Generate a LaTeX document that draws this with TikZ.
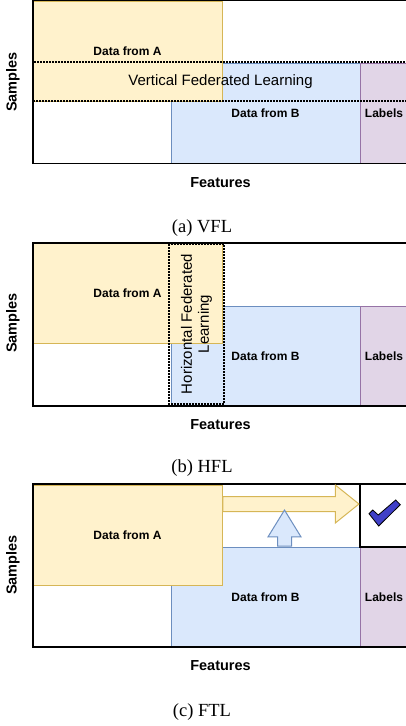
\documentclass[tikz,border=0pt]{standalone}
\usepackage{fontspec}
\setmainfont{Liberation Serif}
\newfontfamily\arialfont{Liberation Sans}
\usetikzlibrary{shapes.arrows}

\definecolor{yellowfill}{HTML}{FFF2CC}
\definecolor{yellowline}{HTML}{D6B656}
\definecolor{bluefill}{HTML}{DAE8FC}
\definecolor{blueline}{HTML}{6C8EBF}
\definecolor{purplefill}{HTML}{E1D5E7}
\definecolor{purpleline}{HTML}{9673A6}
\definecolor{tickblue}{HTML}{4040C8}

\begin{document}
\begin{tikzpicture}[
    x=1pt, y=-1pt,
    block/.style={rectangle, inner sep=0pt, line width=0.9pt, minimum width=189pt, minimum height=100pt, align=center, font=\arialfont\bfseries\fontsize{12}{14}\selectfont},
    partyA/.style={block, fill=yellowfill, draw=yellowline},
    partyB/.style={block, fill=bluefill, draw=blueline},
    labelcol/.style={block, fill=purplefill, draw=purpleline, minimum width=48pt},
    checkcell/.style={rectangle, draw=black, fill=white, line width=1.2pt, minimum width=48pt, minimum height=63pt, inner sep=0pt},
    outer/.style={rectangle, draw=black, line width=1.5pt, minimum width=375pt, minimum height=163pt, inner sep=0pt},
    fed/.style={rectangle, draw=black, line width=2.2pt, dash pattern=on 1.6pt off 1.4pt, inner sep=0pt, align=center, font=\arialfont\fontsize{15}{17}\selectfont},
    axislabel/.style={font=\arialfont\bfseries\fontsize{14.5}{17}\selectfont},
    subcaption/.style={font=\fontsize{18.5}{21}\selectfont},
    yarrow/.style={single arrow, draw=yellowline, fill=yellowfill, line width=1pt, inner xsep=0pt, inner ysep=7pt, minimum height=136pt, single arrow head extend=11.5pt, single arrow tip angle=77.6, anchor=tail},
    barrow/.style={single arrow, draw=blueline, fill=bluefill, line width=1pt, inner xsep=0pt, inner ysep=6.5pt, minimum height=36pt, single arrow head extend=9.5pt, single arrow tip angle=63.2, rotate=90, anchor=tail},
    tick/.style={draw=black, fill=tickblue, line width=0.8pt, line join=miter}
]
\useasboundingbox (0,0) rectangle (406,726);
\clip (0,0) rectangle (406,726);

% (a) VFL
\node[partyB] (dataBa) at (265.5,113) {Data from B};
\node[labelcol] (labelsa) at (384,113) {Labels};
\node[partyA] (dataAa) at (127.5,51) {Data from A};
\node[outer] (framea) at (220.5,82) {};
\node[fed, minimum width=375pt, minimum height=39pt] (vfl) at (220.5,81.5) {Vertical Federated Learning};
\node[axislabel, rotate=90] (samplesa) at (13,82) {Samples};
\node[axislabel] (featuresa) at (220.5,183) {Features};
\node[subcaption] (capa) at (202,228) {(a) VFL};

% (b) HFL
\node[partyB] (dataBb) at (265.5,356) {Data from B};
\node[labelcol] (labelsb) at (384,356) {Labels};
\node[partyA] (dataAb) at (127.5,293) {Data from A};
\node[outer] (frameb) at (220.5,324.5) {};
\node[fed, rotate=90, minimum width=160pt, minimum height=55pt] (hfl) at (196.5,324) {Horizontal Federated\\Learning};
\node[axislabel, rotate=90] (samplesb) at (13,323) {Samples};
\node[axislabel] (featuresb) at (220.5,425) {Features};
\node[subcaption] (capb) at (202,468) {(b) HFL};

% (c) FTL
\node[partyB] (dataBc) at (265.5,597) {Data from B};
\node[labelcol] (labelsc) at (384,597) {Labels};
\node[partyA] (dataAc) at (127.5,535) {Data from A};
\node[checkcell] (checkc) at (384,515.5) {};
\node[outer] (framec) at (220.5,565.5) {};
\node[yarrow] (shareA) at (dataAc.east |- 0,504) {};
\node[barrow] (shareB) at (dataBc.north -| 284.5,0) {};
\filldraw[tick] (369,513.7) -- (372.7,510) -- (378.3,515) -- (395.7,500) -- (400.3,504.7) -- (378.7,526) -- cycle;
\node[axislabel, rotate=90] (samplesc) at (13,565) {Samples};
\node[axislabel] (featuresc) at (220.5,666) {Features};
\node[subcaption] (capc) at (202,712) {(c) FTL};

\end{tikzpicture}
\end{document}
